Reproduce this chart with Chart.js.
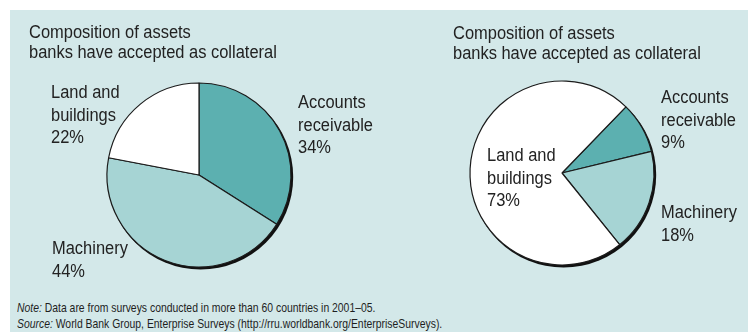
<!DOCTYPE html>
<html>
<head>
<meta charset="utf-8">
<script src="https://cdn.jsdelivr.net/npm/chart.js@4.4.1/dist/chart.umd.min.js"></script>
<style>
  html, body { margin: 0; padding: 0; width: 748px; height: 332px; overflow: hidden; background: #fff; }
  #panel { position: absolute; left: 10px; top: 10px; width: 738px; height: 322px; background: #d3e8e9; }
  .pie { position: absolute; top: 0; width: 374px; height: 290px; }
  #pie-left { left: 0; }
  #pie-right { left: 374px; }
  .notes { position: absolute; left: 17px; top: 300px; font: 13px "Liberation Sans", Arial, sans-serif; line-height: 16px; color: #1e1e1e; white-space: nowrap; transform: scaleX(0.8); transform-origin: 0 0; }
  .notes i { font-style: italic; }
</style>
</head>
<body>
<div id="panel"></div>
<div class="pie" id="pie-left"><canvas id="chart-left" width="374" height="290"></canvas></div>
<div class="pie" id="pie-right"><canvas id="chart-right" width="374" height="290"></canvas></div>
<div class="notes">
  <div><i>Note:</i> Data are from surveys conducted in more than 60 countries in 2001–05.</div>
  <div><i>Source:</i> World Bank Group, Enterprise Surveys (http://rru.worldbank.org/EnterpriseSurveys).</div>
</div>

<script>
// Asset types and shares (%)
const categories = ['Accounts receivable', 'Machinery', 'Land and buildings']
const categoryLines = [['Accounts', 'receivable'], ['Machinery'], ['Land and', 'buildings']]
const sharesLeft = [34, 44, 22]
const sharesRight = [9, 18, 73]
const titleLines = ['Composition of assets', 'banks have accepted as collateral']

const sliceColors = ['#5cb0b0', '#a6d4d4', '#ffffff']
const FONT = '17.5px "Liberation Sans", Arial, sans-serif'
const NARROW = 0.94
const INK = '#222222'

// ── Sombra bajo el disco ────────────────────────────────────────────────
const pieShadow = {
  id: 'pieShadow',
  beforeDatasetsDraw (chart) {
    const arc = chart.getDatasetMeta(0).data[0]
    if (!arc) return
    const { x, y, outerRadius } = arc.getProps(['x', 'y', 'outerRadius'], true)
    const ctx = chart.ctx
    ctx.save()
    ctx.fillStyle = '#111'
    ctx.beginPath()
    ctx.arc(x + 1.6, y + 2, outerRadius + 0.6, 0, Math.PI * 2)
    ctx.fill()
    ctx.restore()
  }
}

// texto algo condensado
function narrowText (ctx, text, x, y) {
  ctx.save()
  ctx.translate(x, y)
  ctx.scale(NARROW, 1)
  ctx.fillText(text, 0, 0)
  ctx.restore()
}

// ── Título y etiquetas de cada porción ──────────────────────────────────
const sliceLabels = {
  id: 'sliceLabels',
  afterDraw (chart, args, opts) {
    const ctx = chart.ctx
    const values = chart.data.datasets[0].data
    ctx.save()
    ctx.font = FONT
    ctx.fillStyle = INK
    ctx.textAlign = 'left'
    ctx.textBaseline = 'alphabetic'
    titleLines.forEach((line, i) => narrowText(ctx, line, opts.titleAt[0], opts.titleAt[1] + i * 20))
    opts.at.forEach(([x, y], i) => {
      const lines = [...categoryLines[i], values[i] + '%']
      lines.forEach((line, j) => narrowText(ctx, line, x, y + j * 22.5))
    })
    ctx.restore()
  }
}

function makePie (id, shares, rotation, padding, labelAt, titleAt) {
  return new Chart(document.getElementById(id), {
    type: 'pie',
    data: {
      labels: categories,
      datasets: [{
        data: shares,
        backgroundColor: sliceColors,
        borderColor: '#1b1b1b',
        borderWidth: 1.2,
        radius: 92
      }]
    },
    options: {
      responsive: false,
      animation: false,
      rotation,
      layout: { padding },
      plugins: {
        legend: { display: false },
        tooltip: { enabled: false },
        sliceLabels: { at: labelAt, titleAt }
      }
    },
    plugins: [pieShadow, sliceLabels]
  })
}

makePie('chart-left', sharesLeft, 0,
  { left: 100, right: 76, top: 75, bottom: 15 },
  [[298, 108], [52, 254], [51, 98]], [29, 38])

makePie('chart-right', sharesRight, 44,
  { left: 90, right: 88, top: 73, bottom: 17 },
  [[287, 103], [287, 218], [113, 161]], [79, 39])
</script>
</body>
</html>
